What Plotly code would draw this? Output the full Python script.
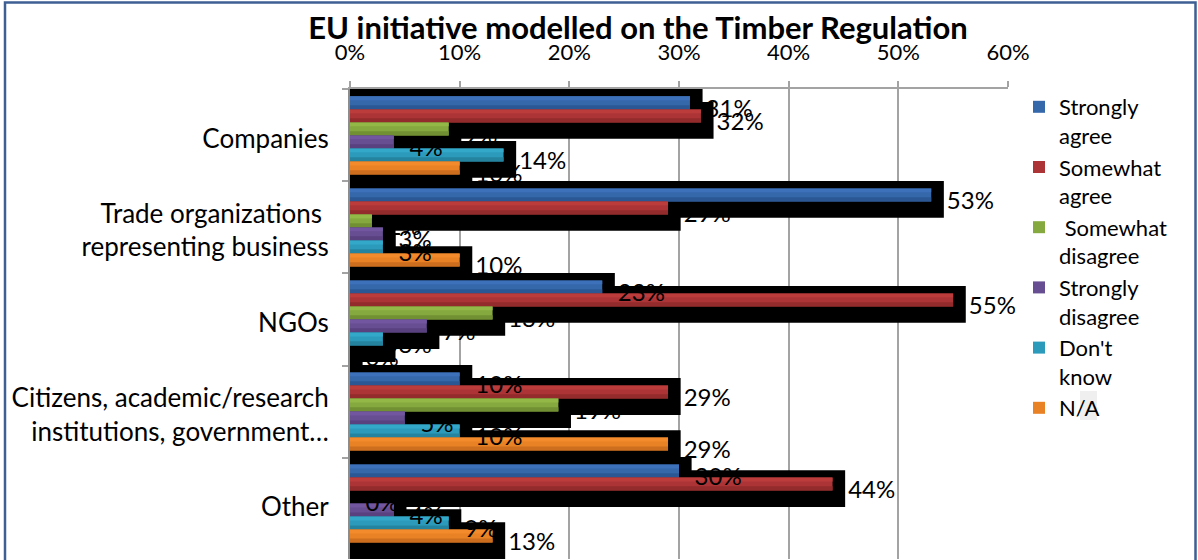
import plotly.graph_objects as go

# Respondent groups (top to bottom)
categories = [
    "Companies",
    "Trade organizations\u00a0<br>representing business",
    "NGOs",
    "Citizens, academic/research<br>institutions, government…",
    "Other",
]

# Share of answers per group, in percent
strongly_agree = [31, 53, 23, 10, 30]
somewhat_agree = [32, 29, 55, 29, 44]
somewhat_disagree = [9, 2, 13, 19, 0]
strongly_disagree = [4, 3, 7, 5, 4]
dont_know = [14, 3, 3, 10, 9]
not_applicable = [10, 10, 0, 29, 13]

series_names = [
    "Strongly<br>agree",
    "Somewhat<br>agree",
    "\u00a0Somewhat<br>disagree",
    "Strongly<br>disagree",
    "Don't<br>know",
    "N/A",
]
series_values = [
    strongly_agree,
    somewhat_agree,
    somewhat_disagree,
    strongly_disagree,
    dont_know,
    not_applicable,
]
# main fill, lighter top band and darker bottom band of each bar
series_colors = ["#3567ab", "#ad3436", "#86a93f", "#674d92", "#2c9bbb", "#e98125"]
top_shades = ["#3d72ba", "#bc3c3c", "#93b847", "#7256a0", "#33a8c9", "#f38b2c"]
bottom_shades = ["#2b5894", "#932b2c", "#718f33", "#58417e", "#24839f", "#cc6e1e"]

x_ticks = [0, 10, 20, 30, 40, 50, 60]
x_tick_labels = ["0%", "10%", "20%", "30%", "40%", "50%", "60%"]

FONT = "Lato"
BAR_W = 0.1415          # thickness of one bar, in category units
GROUP_START = -0.4245   # offset of the first bar from the category centre
SHADOW_UP = 0.08        # drop shadow reaches a bit above the bar...
SHADOW_DOWN = 0.178     # ...and further below it
SHADOW_RUN = 1.15       # shadow runs past the bar end (percentage points)
GRID = "#a3a3a3"

fig = go.Figure()

# black drop shadows, drawn first so every bar sits on top of them
for i, vals in enumerate(series_values):
    fig.add_bar(
        y=categories,
        x=[v + SHADOW_RUN for v in vals],
        orientation="h",
        offset=GROUP_START + i * BAR_W - SHADOW_UP,
        width=BAR_W + SHADOW_UP + SHADOW_DOWN,
        marker=dict(color="black", line=dict(width=0)),
        showlegend=False,
        hoverinfo="skip",
    )

# coloured bars with a light-to-dark vertical shading
for i, (name, vals) in enumerate(zip(series_names, series_values)):
    start = GROUP_START + i * BAR_W
    fig.add_bar(
        y=categories,
        x=vals,
        orientation="h",
        name=name,
        offset=start,
        width=BAR_W,
        marker=dict(color=series_colors[i], line=dict(width=0)),
    )
    fig.add_bar(
        y=categories,
        x=vals,
        orientation="h",
        offset=start,
        width=BAR_W * 0.3,
        marker=dict(color=top_shades[i], line=dict(width=0)),
        showlegend=False,
        hoverinfo="skip",
    )
    fig.add_bar(
        y=categories,
        x=vals,
        orientation="h",
        offset=start + BAR_W * 0.68,
        width=BAR_W * 0.32,
        marker=dict(color=bottom_shades[i], line=dict(width=0)),
        showlegend=False,
        hoverinfo="skip",
    )

# value labels, placed just past the end of each shadow
for i, vals in enumerate(series_values):
    fig.add_bar(
        y=categories,
        x=[v + SHADOW_RUN for v in vals],
        orientation="h",
        offset=GROUP_START + i * BAR_W - SHADOW_UP,
        width=BAR_W + SHADOW_UP + SHADOW_DOWN,
        marker=dict(color="rgba(0,0,0,0)", line=dict(width=0)),
        text=[f"{v}%" for v in vals],
        textposition="outside",
        textfont=dict(family=FONT, size=24, color="black"),
        constraintext="none",
        cliponaxis=False,
        showlegend=False,
        hoverinfo="skip",
    )

# chart frame and a highlighted letter in the legend
L, R, T, B = 350, 190, 89, 1
PW, PH = 1198 - L - R, 560 - T - B


def px_x(p):
    return (p - L) / PW


def px_y(p):
    return (560 - B - p) / PH


fig.add_shape(
    type="rect", xref="paper", yref="paper",
    x0=px_x(1080), x1=px_x(1097), y0=px_y(420), y1=px_y(391),
    fillcolor="#efefef", line=dict(width=0), layer="above",
)
fig.add_shape(
    type="path", xref="paper", yref="paper",
    path=f"M {px_x(5)} {px_y(620)} L {px_x(5)} {px_y(2.5)} L {px_x(1195.5)} {px_y(2.5)} L {px_x(1195.5)} {px_y(620)}",
    line=dict(color="#3d5f93", width=2.5), layer="above",
)

fig.update_layout(
    width=1198,
    height=560,
    margin=dict(l=L, r=R, t=T, b=B),
    barmode="overlay",
    paper_bgcolor="white",
    plot_bgcolor="white",
    font=dict(family=FONT, color="black"),
    title=dict(
        text="EU initiative modelled on the Timber Regulation",
        xref="container", yref="container",
        x=638 / 1198, y=1 - 28 / 560,
        xanchor="center", yanchor="middle",
        font=dict(family=FONT, size=31, weight="bold", color="black"),
    ),
    legend=dict(
        x=px_x(1019), xanchor="left",
        y=px_y(86), yanchor="top",
        maxheight=1,
        valign="top",
        font=dict(family=FONT, size=22, color="black"),
        tracegroupgap=0,
        bgcolor="rgba(0,0,0,0)",
    ),
    showlegend=True,
)

fig.update_xaxes(
    side="top",
    range=[0, 60],
    tickvals=x_ticks,
    ticktext=x_tick_labels,
    tickfont=dict(family=FONT, size=22, color="black"),
    showgrid=True,
    gridcolor=GRID,
    gridwidth=1.5,
    showline=True,
    linecolor=GRID,
    linewidth=1.5,
    ticks="outside",
    ticklen=6,
    tickcolor=GRID,
    tickwidth=1.5,
    zeroline=False,
    ticklabelstandoff=12,
    fixedrange=True,
)

fig.update_yaxes(
    type="category",
    categoryorder="array",
    categoryarray=categories,
    autorange="reversed",
    tickson="boundaries",
    ticks="outside",
    ticklen=6,
    tickcolor=GRID,
    tickwidth=1.5,
    showline=True,
    linecolor="#8c8c8c",
    linewidth=2,
    showgrid=False,
    tickfont=dict(family=FONT, size=26, color="black"),
    ticklabelstandoff=14,
    ticklabelshift=-3,
    fixedrange=True,
)

fig.write_html("out.html")
